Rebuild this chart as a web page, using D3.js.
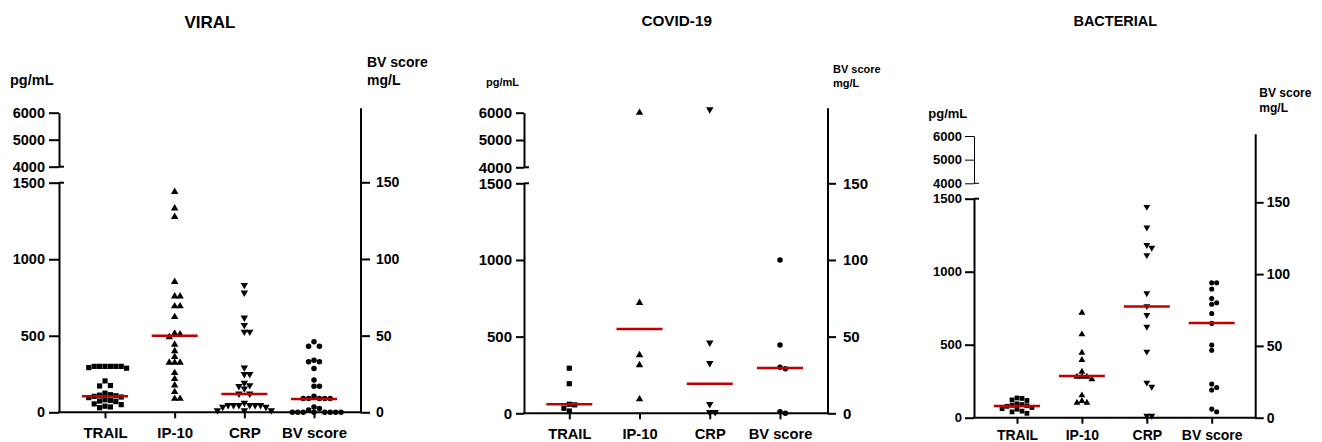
<!DOCTYPE html>
<html><head><meta charset="utf-8">
<script src="https://cdn.jsdelivr.net/npm/d3@7"></script>
<style>
body{margin:0;background:#fff}
svg{display:block}
text{font-family:"Liberation Sans",Arial,Helvetica,sans-serif;font-weight:bold;fill:#000}
</style>
</head><body>
<svg id="chart" width="1322" height="442"></svg>
<script>
// ---------------- data ----------------
const categories = ["TRAIL", "IP-10", "CRP", "BV score"];
const panelTitles = ["VIRAL", "COVID-19", "BACTERIAL"];
const leftTicksLower = [0, 500, 1000, 1500];
const leftTicksUpper = [4000, 5000, 6000];
const rightTicks = [0, 50, 100, 150];
const leftUnit = "pg/mL";
const rightUnit = ["BV score", "mg/L"];

// TRAIL, IP-10 in pg/mL (left axis); CRP in mg/L and BV score (right axis)
const viralTRAIL = [300, 300, 300, 300, 292, 288, 300, 300, 205, 175, 172, 125, 115, 112, 108, 104, 100, 96, 82, 78, 74, 70, 55, 50, 40, 35, 30];
const viralIP10  = [1440, 1333, 1277, 852, 758, 758, 693, 693, 623, 514, 510, 492, 442, 400, 362, 325, 325, 325, 257, 218, 176, 133, 89, 89];
const viralCRP   = [83, 78, 61.7, 56.9, 52.5, 52.5, 29.2, 24.8, 24.8, 19.1, 17.6, 17, 15.5, 12.2, 12.2, 6.1, 4.6, 4.6, 4.6, 4.6, 4.6, 4.6, 3.5, 3.5, 1.3, 1.3, 1.3];
const viralBV    = [46, 43, 43, 34, 33, 33, 28.5, 21, 17, 17, 10.5, 9, 9, 9, 9, 9, 3.5, 2.4, 1.5, 0, 0, 0, 0, 0, 0, 0, 0];
const viralMedians = [105, 500, 12.0, 8.7];

const covidTRAIL = [294, 193, 59, 55, 33, 15];
const covidIP10  = [6000, 720, 380, 315, 92];
const covidCRP   = [612, 46, 32.7, 5.9, 0.7, 0.7];
const covidBV    = [100, 44.5, 30, 29.1, 1, 0];
const covidMedians = [59, 550, 19.3, 29.6];

const bactTRAIL = [135, 132, 122, 118, 95, 90, 85, 82, 78, 70, 62, 58, 45, 40, 30];
const bactIP10  = [719, 571, 445, 395, 315, 281, 281, 281, 263, 153, 114, 103, 103];
const bactCRP   = [146.8, 132.5, 120.2, 118.3, 113.2, 86.6, 77.7, 71.5, 63.3, 46, 24.4, 21.6, 1.4, 1.4];
const bactBV    = [94, 94, 89.6, 83, 80, 79, 72.6, 65.7, 50.6, 47, 23.5, 21, 19.3, 6, 4.2];
const bactMedians = [80, 286, 77.5, 66];

// which axis each category belongs to
const categoryAxis = ["left", "left", "right", "right"];

// ---------------- layout ----------------
const panels = [
  {title: panelTitles[0], series: [viralTRAIL, viralIP10, viralCRP, viralBV], medians: viralMedians,
   x0: 59, x1: 361, y0: 412.3, y1500: 182.7, y4000: 166.7, y6000: 112.7, yR150: 182.3, rTop: 108.3,
   cat: [105, 314], titleX: 210, titleY: 27.7, titleFs: 17,
   unitX: 10, unitY: 85, unitFs: 14.5, rUnitX: 367, rUnitY: [66.7, 85], rUnitFs: 14,
   tickFs: 14.5, tickLen: 10, tickPad: 4, rTickFs: 14, rTickLen: 9, rTickPad: 6,
   catFs: 15, catPad: 9, upperW: 2, mk: 1},
  {title: panelTitles[1], series: [covidTRAIL, covidIP10, covidCRP, covidBV], medians: covidMedians,
   x0: 524, x1: 828, y0: 413.3, y1500: 183.3, y4000: 167.3, y6000: 112.7, yR150: 183.3, rTop: 108.3,
   cat: [569.3, 780], titleX: 676.7, titleY: 26, titleFs: 15.3,
   unitX: 486, unitY: 86, unitFs: 11, rUnitX: 833, rUnitY: [73.3, 86.7], rUnitFs: 11,
   tickFs: 15, tickLen: 8, tickPad: 4, rTickFs: 15, rTickLen: 8, rTickPad: 7,
   catFs: 14.7, catPad: 9, upperW: 2, mk: 1},
  {title: panelTitles[2], series: [bactTRAIL, bactIP10, bactCRP, bactBV], medians: bactMedians,
   x0: 974, x1: 1255.7, y0: 417.7, y1500: 198.7, y4000: 183.3, y6000: 136, yR150: 202.3, rTop: 134.3,
   cat: [1017, 1211.7], titleX: 1115.3, titleY: 26, titleFs: 14.5,
   unitX: 928.3, unitY: 118, unitFs: 13, rUnitX: 1259.3, rUnitY: [96.7, 112], rUnitFs: 12,
   tickFs: 13, tickLen: 9, tickPad: 3, rTickFs: 14, rTickLen: 8, rTickPad: 3,
   catFs: 14, catPad: 6, upperW: 1, mk: 0.92}
];

const svg = d3.select("#chart");
const RED = "#c00000";

const symbols = [
  d3.symbol().type(d3.symbolSquare),
  d3.symbol().type(d3.symbolTriangle),
  d3.symbol().type(d3.symbolTriangle),
  d3.symbol().type(d3.symbolCircle)
];
const symbolSize = [27, 24, 24, 24];
const symbolRot = [0, 0, 180, 0];

function dodge(pts, diam, step) {
  const placed = [];
  pts.sort((a, b) => a.y - b.y);
  for (const p of pts) {
    for (let k = 0; k < 60; k++) {
      const off = k === 0 ? 0 : (k % 2 ? 1 : -1) * Math.ceil(k / 2) * step;
      if (placed.every(q => (q.dx - off) ** 2 + (q.y - p.y) ** 2 >= diam * diam)) {
        p.dx = off; placed.push(p); break;
      }
    }
  }
  return pts;
}

panels.forEach(P => {
  const g = svg.append("g");
  const lower = d3.scaleLinear().domain([0, 1500]).range([P.y0, P.y1500]);
  const upper = d3.scaleLinear().domain([4000, 6000]).range([P.y4000, P.y6000]);
  const right = d3.scaleLinear().domain([0, 150]).range([P.y0, P.yR150]);
  const x = d3.scalePoint().domain(categories).range(P.cat);

  const yLeft = v => v > 1500 ? upper(v) : lower(v);
  const yRight = v => v > 150 ? upper(v * 10) : right(v);
  const yOf = (ci, v) => categoryAxis[ci] === "left" ? yLeft(v) : yRight(v);

  // title & unit labels
  g.append("text").attr("x", P.titleX).attr("y", P.titleY).attr("text-anchor", "middle")
    .style("font-size", P.titleFs + "px").text(P.title);
  g.append("text").attr("x", P.unitX).attr("y", P.unitY)
    .style("font-size", P.unitFs + "px").text(leftUnit);
  rightUnit.forEach((t, i) => g.append("text").attr("x", P.rUnitX).attr("y", P.rUnitY[i])
    .style("font-size", P.rUnitFs + "px").text(t));

  // left axis — lower segment
  const axL = g.append("g").attr("transform", `translate(${P.x0},0)`)
    .call(d3.axisLeft(lower).tickValues(leftTicksLower).tickFormat(d3.format("d"))
      .tickSize(P.tickLen).tickSizeOuter(0).tickPadding(P.tickPad));
  // left axis — upper segment
  const axU = g.append("g").attr("transform", `translate(${P.x0},0)`)
    .call(d3.axisLeft(upper).tickValues(leftTicksUpper).tickFormat(d3.format("d"))
      .tickSize(P.tickLen).tickSizeOuter(0).tickPadding(P.tickPad));
  [axL, axU].forEach((a, i) => {
    a.selectAll("path.domain").attr("stroke", "#000").attr("stroke-width", i === 1 ? P.upperW : 2);
    a.selectAll(".tick line").attr("stroke", "#000").attr("stroke-width", i === 1 ? P.upperW : 2);
    a.selectAll(".tick text").style("font-size", P.tickFs + "px").attr("fill", "#000")
      .style("font-family", '"Liberation Sans",Arial,sans-serif').style("font-weight", "bold");
  });
  // break caps
  g.append("line").attr("x1", P.x0).attr("x2", P.x0 + 5)
    .attr("y1", upper(4000)).attr("y2", upper(4000)).attr("stroke", "#000").attr("stroke-width", P.upperW);
  g.append("line").attr("x1", P.x0).attr("x2", P.x0 + 5)
    .attr("y1", lower(1500)).attr("y2", lower(1500)).attr("stroke", "#000").attr("stroke-width", 2);

  // right axis
  g.append("line").attr("x1", P.x1).attr("x2", P.x1).attr("y1", P.rTop).attr("y2", P.y0 + 1)
    .attr("stroke", "#000").attr("stroke-width", 2);
  const axR = g.append("g").attr("transform", `translate(${P.x1},0)`)
    .call(d3.axisRight(right).tickValues(rightTicks).tickFormat(d3.format("d"))
      .tickSize(P.rTickLen).tickSizeOuter(0).tickPadding(P.rTickPad));
  axR.select("path.domain").remove();
  axR.selectAll(".tick line").attr("stroke", "#000").attr("stroke-width", 2);
  axR.selectAll(".tick text").style("font-size", P.rTickFs + "px").attr("fill", "#000")
    .style("font-family", '"Liberation Sans",Arial,sans-serif').style("font-weight", "bold");

  // bottom axis
  g.append("line").attr("x1", P.x0 - 1).attr("x2", P.x1 + 1).attr("y1", P.y0).attr("y2", P.y0)
    .attr("stroke", "#000").attr("stroke-width", 2);
  const axB = g.append("g").attr("transform", `translate(0,${P.y0})`)
    .call(d3.axisBottom(x).tickSize(6).tickSizeOuter(0).tickPadding(P.catPad));
  axB.select("path.domain").remove();
  axB.selectAll(".tick line").attr("stroke", "#000").attr("stroke-width", 2);
  axB.selectAll(".tick text").style("font-size", P.catFs + "px").attr("fill", "#000")
    .style("font-family", '"Liberation Sans",Arial,sans-serif').style("font-weight", "bold");

  // points
  P.series.forEach((vals, ci) => {
    const pts = dodge(vals.map(v => ({v, y: yOf(ci, v)})), 5.3 * P.mk, 5.4 * P.mk);
    g.append("g").selectAll("path").data(pts).join("path")
      .attr("d", symbols[ci].size(symbolSize[ci] * P.mk * P.mk))
      .attr("transform", d => `translate(${x(categories[ci]) + d.dx},${d.y}) rotate(${symbolRot[ci]})`)
      .attr("fill", "#000");
  });

  // median lines
  g.append("g").selectAll("line").data(P.medians).join("line")
    .attr("x1", (d, i) => x(categories[i]) - 23).attr("x2", (d, i) => x(categories[i]) + 23)
    .attr("y1", (d, i) => yOf(i, d)).attr("y2", (d, i) => yOf(i, d))
    .attr("stroke", RED).attr("stroke-width", 2.5);
});
</script>
</body></html>
